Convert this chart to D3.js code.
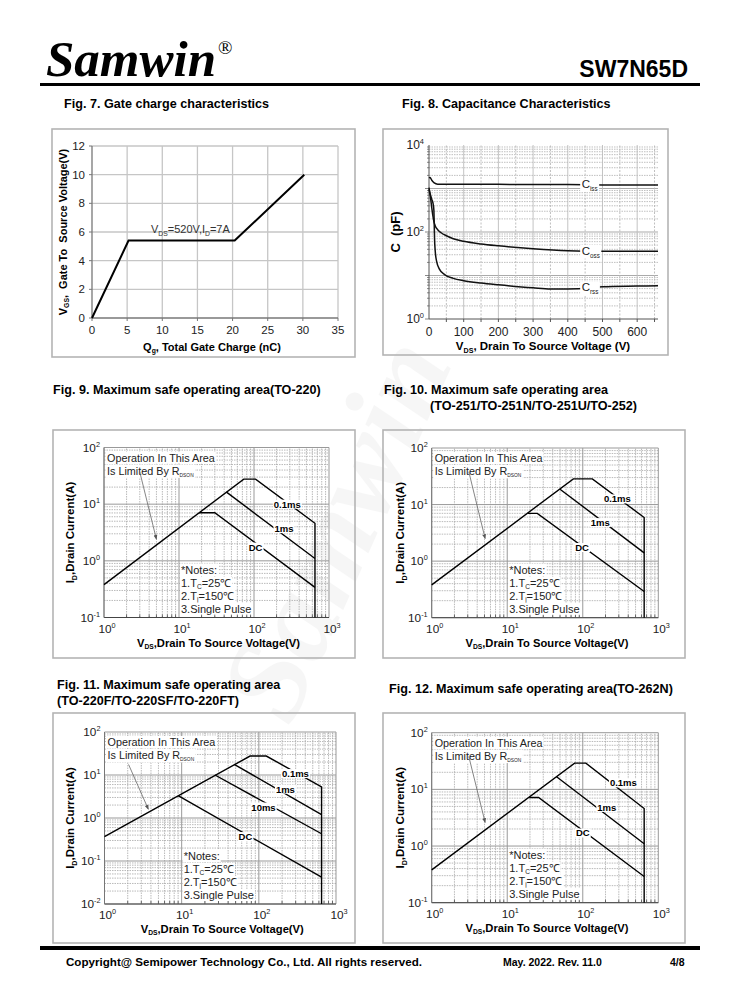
<!DOCTYPE html>
<html><head><meta charset="utf-8">
<script src="https://cdn.jsdelivr.net/npm/d3@7"></script>
<style>
body{margin:0;background:#fff}
svg{display:block}
text{font-family:"Liberation Sans",Arial,Helvetica,sans-serif}
</style>
</head><body>
<svg id="c" width="738" height="1000"></svg>
<script>
// ---------------- DATA ----------------
// Fig 7 gate charge
const fig7Qg = [0, 5.2, 20.3, 30.2];
const fig7Vgs = [0, 5.4, 5.4, 10];
const fig7XTicks = [0, 5, 10, 15, 20, 25, 30, 35];
const fig7YTicks = [0, 2, 4, 6, 8, 10, 12];

// Fig 8 capacitance (V, pF)
const fig8CissV = [0, 3, 8, 15, 25, 50, 100, 200, 300, 400, 500, 600, 660];
const fig8CissC = [1750, 1800, 1550, 1350, 1260, 1250, 1250, 1245, 1240, 1230, 1210, 1200, 1200];
const fig8CossV = [0, 2, 5, 8, 11, 14, 18, 25, 35, 50, 70, 100, 150, 200, 300, 400, 500, 660];
const fig8CossC = [1050, 820, 560, 360, 240, 175, 138, 113, 96, 82, 70, 61, 53, 48, 41, 37, 36, 36];
const fig8CrssV = [0, 4, 8, 12, 14, 15, 16, 18, 22, 30, 45, 70, 100, 150, 200, 300, 350, 400, 460, 500, 600, 660];
const fig8CrssC = [950, 720, 560, 440, 320, 160, 70, 36, 21, 14, 10.5, 8.6, 7.6, 6.7, 6.1, 5.2, 4.9, 4.9, 5.1, 5.5, 5.7, 5.8];
const fig8XTicks = [0, 100, 200, 300, 400, 500, 600];
const fig8YTickExps = [0, 2, 4];

// SOA common
const soaXTickExps = [0, 1, 2, 3];

// Fig 9 (TO-220)  [V, A]
const fig9Op01ms = [[1, 0.38], [73, 27.7], [105, 27.7], [650, 4.6], [650, 0.1]];
const fig9Op1ms = [[43, 16.3], [650, 1.1]];
const fig9OpDC = [[18.5, 7.05], [30, 7.05], [650, 0.34]];
const fig9Labels = [["0.1ms", 278, 10], ["1ms", 251, 3.7], ["DC", 105, 1.75]];

// Fig 10 (TO-251/TO-252)
const fig10Op01ms = [[1, 0.38], [75, 28.5], [134, 28.5], [650, 5.9], [650, 0.1]];
const fig10Op1ms = [[50, 18.7], [650, 1.4]];
const fig10OpDC = [[18.6, 7.0], [25, 7.0], [650, 0.29]];
const fig10Labels = [["0.1ms", 287, 12.6], ["1ms", 170, 4.8], ["DC", 98, 1.74]];

// Fig 11 (TO-220F)
const fig11Op01ms = [[1, 0.37], [77, 27.6], [125, 27.6], [650, 5.3], [650, 0.01]];
const fig11Op1ms = [[48, 17.7], [650, 1.2]];
const fig11Op10ms = [[27, 10], [650, 0.43]];
const fig11OpDC = [[9, 3.3], [650, 0.042]];
const fig11Labels = [["0.1ms", 298, 10.8], ["1ms", 221, 4.7], ["10ms", 115, 1.8], ["DC", 67, 0.37]];

// Fig 12 (TO-262N)
const fig12Op01ms = [[1, 0.38], [78, 29], [110, 29], [650, 4.6], [650, 0.1]];
const fig12Op1ms = [[45, 16.7], [650, 1.1]];
const fig12OpDC = [[19.5, 7.2], [26, 7.2], [650, 0.29]];
const fig12Labels = [["0.1ms", 345, 13], ["1ms", 208, 4.8], ["DC", 100, 1.7]];

// ---------------- DRAWING ----------------
const svg = d3.select("#c");
svg.append("rect").attr("width", 738).attr("height", 1000).attr("fill", "#fff");
const defs = svg.append("defs");
defs.append("marker").attr("id", "arr").attr("viewBox", "0 0 10 10")
  .attr("refX", 9).attr("refY", 5).attr("markerWidth", 6).attr("markerHeight", 6)
  .attr("orient", "auto")
  .append("path").attr("d", "M0,1 L10,5 L0,9 Z").attr("fill", "#555");

// watermark
svg.append("text").attr("x", 0).attr("y", 0)
  .attr("transform", "translate(372,545) rotate(-66)")
  .attr("text-anchor", "middle").attr("font-size", 120)
  .style("font-family", '"Liberation Serif",serif').attr("font-style", "italic").attr("font-weight", "bold")
  .attr("fill", "#000").attr("opacity", 0.03).text("Samwin");

function rich(g, x, y, parts, o) {
  const t = g.append("text").attr("x", x).attr("y", y)
    .attr("font-size", o.size).attr("font-weight", o.bold ? "bold" : "normal")
    .attr("text-anchor", o.anchor || "start").attr("fill", o.fill || "#000")
    .style("white-space", "pre");
  if (o.family) t.style("font-family", o.family);
  if (o.rotate) t.attr("transform", `rotate(${o.rotate},${x},${y})`);
  let shift = 0;
  parts.forEach(p => {
    const [s, kind] = Array.isArray(p) ? p : [p, ""];
    const ts = t.append("tspan").text(s);
    const target = kind === "sub" ? o.size * 0.22 : kind === "sup" ? -o.size * 0.42 : 0;
    if (target !== shift) { ts.attr("dy", target - shift); shift = target; }
    if (kind) ts.attr("font-size", o.size * (o.subScale || 0.62));
  });
  return t;
}
function bg(g, t, px, py) {
  const b = t.node().getBBox();
  g.insert("rect", () => t.node()).attr("x", b.x - px).attr("y", b.y - py)
    .attr("width", b.width + 2 * px).attr("height", b.height + 2 * py).attr("fill", "#fff");
}
function box(x, y, w, h) {
  svg.append("rect").attr("x", x).attr("y", y).attr("width", w).attr("height", h)
    .attr("fill", "none").attr("stroke", "#b4b4b4").attr("stroke-width", 1.6);
}

// ---- header / footer ----
svg.append("text").attr("x", 46).attr("y", 76).attr("font-size", 51)
  .style("font-family", '"Liberation Serif","Times New Roman",serif')
  .attr("font-style", "italic").attr("font-weight", "bold").text("Samwin");
svg.append("text").attr("x", 218).attr("y", 54).attr("font-size", 19)
  .style("font-family", '"Liberation Serif","Times New Roman",serif').text("®");
svg.append("text").attr("x", 688).attr("y", 77).attr("font-size", 23).attr("font-weight", "bold")
  .attr("text-anchor", "end").text("SW7N65D");
svg.append("rect").attr("x", 40).attr("y", 83).attr("width", 660).attr("height", 3).attr("fill", "#000");
svg.append("rect").attr("x", 40).attr("y", 946).attr("width", 660).attr("height", 4).attr("fill", "#000");
svg.append("text").attr("x", 66).attr("y", 966).attr("font-size", 11.6).attr("font-weight", "bold")
  .text("Copyright@ Semipower Technology Co., Ltd. All rights reserved.");
svg.append("text").attr("x", 503).attr("y", 966).attr("font-size", 10.5).attr("font-weight", "bold")
  .text("May. 2022. Rev. 11.0");
svg.append("text").attr("x", 670).attr("y", 966).attr("font-size", 10.5).attr("font-weight", "bold")
  .text("4/8");

// ---- figure titles ----
const titles = [
  [64, 108, "Fig. 7. Gate charge characteristics"],
  [402, 108, "Fig. 8. Capacitance Characteristics"],
  [53, 394, "Fig. 9. Maximum safe operating area(TO-220)"],
  [384, 394, "Fig. 10. Maximum safe operating area"],
  [430, 410, "(TO-251/TO-251N/TO-251U/TO-252)"],
  [57, 689, "Fig. 11. Maximum safe operating area"],
  [57, 705, "(TO-220F/TO-220SF/TO-220FT)"],
  [389, 693, "Fig. 12. Maximum safe operating area(TO-262N)"]
];
titles.forEach(([x, y, s]) => svg.append("text").attr("x", x).attr("y", y)
  .attr("font-size", 12.6).attr("font-weight", "bold").text(s));

// ---- Fig 7 ----
(function () {
  box(52, 129, 303, 228);
  const g = svg.append("g");
  const x = d3.scaleLinear().domain([0, 35]).range([92, 338]);
  const y = d3.scaleLinear().domain([0, 12]).range([318, 146]);
  fig7YTicks.forEach(v => { if (v > 0) g.append("line").attr("x1", x(0)).attr("x2", x(35)).attr("y1", y(v)).attr("y2", y(v)).attr("stroke", "#c6c6c6").attr("stroke-width", 1.3); });
  fig7XTicks.forEach(v => { if (v > 0) g.append("line").attr("x1", x(v)).attr("x2", x(v)).attr("y1", y(0)).attr("y2", y(12)).attr("stroke", "#c6c6c6").attr("stroke-width", 1.3); });
  g.append("line").attr("x1", x(0)).attr("x2", x(0)).attr("y1", y(0)).attr("y2", y(12)).attr("stroke", "#777").attr("stroke-width", 1.3);
  g.append("line").attr("x1", x(0)).attr("x2", x(35)).attr("y1", y(0)).attr("y2", y(0)).attr("stroke", "#777").attr("stroke-width", 1.3);
  fig7YTicks.forEach(v => {
    g.append("line").attr("x1", x(0) - 3).attr("x2", x(0)).attr("y1", y(v)).attr("y2", y(v)).attr("stroke", "#777");
    g.append("text").attr("x", x(0) - 7).attr("y", y(v) + 4).attr("text-anchor", "end").attr("font-size", 11.5).attr("fill", "#222").text(v);
  });
  fig7XTicks.forEach(v => {
    g.append("line").attr("x1", x(v)).attr("x2", x(v)).attr("y1", y(0)).attr("y2", y(0) + 3).attr("stroke", "#777");
    g.append("text").attr("x", x(v)).attr("y", y(0) + 16).attr("text-anchor", "middle").attr("font-size", 11.5).attr("fill", "#222").text(v);
  });
  const pts = fig7Qg.map((q, i) => [q, fig7Vgs[i]]);
  g.append("path").attr("d", d3.line().x(d => x(d[0])).y(d => y(d[1]))(pts))
    .attr("fill", "none").attr("stroke", "#000").attr("stroke-width", 2);
  rich(g, x(14), y(6.2) + 4, ["V", ["DS", "sub"], "=520V,I", ["D", "sub"], "=7A"], { size: 11, anchor: "middle", fill: "#333" });
  rich(g, 212, 351, ["Q", ["g", "sub"], ", Total Gate Charge (nC)"], { size: 11, bold: true, anchor: "middle" });
  rich(g, 67, y(6), ["V", ["GS", "sub"], ",  Gate To  Source Voltage(V)"], { size: 11, bold: true, anchor: "middle", rotate: -90 });
})();

// ---- Fig 8 ----
(function () {
  box(383, 129, 285, 226);
  const g = svg.append("g");
  const x = d3.scaleLinear().domain([0, 660]).range([429, 658]);
  const y = d3.scaleLog().domain([1, 10000]).range([319, 145]);
  for (let e = 0; e < 4; e++) for (let k = 2; k <= 9; k++) {
    const v = k * Math.pow(10, e);
    g.append("line").attr("x1", x(0)).attr("x2", x(660)).attr("y1", y(v)).attr("y2", y(v))
      .attr("stroke", "#b0b0b0").attr("stroke-width", 0.8).attr("stroke-dasharray", "1.5,1");
  }
  for (let e = 1; e < 4; e++) g.append("line").attr("x1", x(0)).attr("x2", x(660)).attr("y1", y(Math.pow(10, e))).attr("y2", y(Math.pow(10, e)))
    .attr("stroke", "#aaa").attr("stroke-width", 1.2);
  d3.range(50, 661, 50).forEach(v => {
    g.append("line").attr("x1", x(v)).attr("x2", x(v)).attr("y1", y(1)).attr("y2", y(10000))
      .attr("stroke", v % 100 === 0 ? "#bcbcbc" : "#b8b8b8").attr("stroke-width", 0.9)
      .attr("stroke-dasharray", v % 100 === 0 ? null : "2,1.5");
    g.append("line").attr("x1", x(v)).attr("x2", x(v)).attr("y1", y(1)).attr("y2", y(1) + 3).attr("stroke", "#555");
  });
  g.append("line").attr("x1", x(0)).attr("x2", x(0)).attr("y1", y(1)).attr("y2", y(10000)).attr("stroke", "#555");
  g.append("line").attr("x1", x(0)).attr("x2", x(660)).attr("y1", y(1)).attr("y2", y(1)).attr("stroke", "#555");
  for (let e = 0; e < 4; e++) for (let k = 1; k <= 9; k++) {
    const v = k * Math.pow(10, e);
    g.append("line").attr("x1", x(0) - (k === 1 ? 4 : 2)).attr("x2", x(0)).attr("y1", y(v)).attr("y2", y(v)).attr("stroke", "#555").attr("stroke-width", 0.7);
  }
  fig8YTickExps.forEach(e => rich(g, x(0) - 5, y(Math.pow(10, e)) + 4, ["10", [String(e), "sup"]], { size: 12, anchor: "end", fill: "#222" }));
  fig8XTicks.forEach(v => g.append("text").attr("x", x(v)).attr("y", y(1) + 17).attr("text-anchor", "middle").attr("font-size", 12).attr("fill", "#222").text(v));
  const line = d3.line().x(d => x(d[0])).y(d => y(d[1])).curve(d3.curveMonotoneX);
  [[fig8CissV, fig8CissC], [fig8CossV, fig8CossC], [fig8CrssV, fig8CrssC]].forEach(([vs, cs]) => {
    g.append("path").attr("d", line(vs.map((v, i) => [v, cs[i]]))).attr("fill", "none").attr("stroke", "#111").attr("stroke-width", 1.5);
  });
  [["iss", 1240], ["oss", 36.5], ["rss", 5.3]].forEach(([s, c]) => {
    const t = rich(g, x(440), y(c) + 4, ["C", [s, "sub"]], { size: 11.5, fill: "#222", subScale: 0.55 });
    bg(g, t, 1.5, 0);
  });
  rich(g, 543, 350, ["V", ["DS", "sub"], ", Drain To Source Voltage (V)"], { size: 11.5, bold: true, anchor: "middle" });
  rich(g, 400, 232, ["C  (pF)"], { size: 13, bold: true, anchor: "middle", rotate: -90 });
})();

// ---- SOA charts ----
function drawSOA(c) {
  box(c.box[0], c.box[1], c.box[2], c.box[3]);
  const g = svg.append("g");
  const x = d3.scaleLog().domain([1, 1000]).range([c.l, c.r]);
  const y = d3.scaleLog().domain([Math.pow(10, c.yExps[0]), Math.pow(10, c.yExps[1])]).range([c.b, c.t]);
  const xMin = 1, xMax = 1000, yMin = Math.pow(10, c.yExps[0]), yMax = Math.pow(10, c.yExps[1]);
  for (let e = 0; e < 3; e++) for (let k = 2; k <= 9; k++) {
    const v = k * Math.pow(10, e);
    g.append("line").attr("x1", x(v)).attr("x2", x(v)).attr("y1", y(yMin)).attr("y2", y(yMax))
      .attr("stroke", "#a8a8a8").attr("stroke-width", 0.8).attr("stroke-dasharray", "1.5,1");
    g.append("line").attr("x1", x(v)).attr("x2", x(v)).attr("y1", y(yMin)).attr("y2", y(yMin) - 3).attr("stroke", "#444").attr("stroke-width", 0.8);
  }
  for (let e = c.yExps[0]; e < c.yExps[1]; e++) for (let k = 2; k <= 9; k++) {
    const v = k * Math.pow(10, e);
    g.append("line").attr("x1", x(xMin)).attr("x2", x(xMax)).attr("y1", y(v)).attr("y2", y(v))
      .attr("stroke", "#a8a8a8").attr("stroke-width", 0.8).attr("stroke-dasharray", "1.5,1");
  }
  soaXTickExps.forEach(e => g.append("line").attr("x1", x(Math.pow(10, e))).attr("x2", x(Math.pow(10, e))).attr("y1", y(yMin)).attr("y2", y(yMax)).attr("stroke", "#999").attr("stroke-width", 1));
  for (let e = c.yExps[0]; e <= c.yExps[1]; e++) g.append("line").attr("x1", x(xMin)).attr("x2", x(xMax)).attr("y1", y(Math.pow(10, e))).attr("y2", y(Math.pow(10, e))).attr("stroke", "#999").attr("stroke-width", 1);
  g.append("line").attr("x1", x(xMin)).attr("x2", x(xMax)).attr("y1", y(yMin)).attr("y2", y(yMin)).attr("stroke", "#444").attr("stroke-width", 1);
  g.append("line").attr("x1", x(xMin)).attr("x2", x(xMin)).attr("y1", y(yMin)).attr("y2", y(yMax)).attr("stroke", "#777").attr("stroke-width", 1);
  soaXTickExps.forEach(e => rich(g, x(Math.pow(10, e)) + 3, y(yMin) + 15, ["10", [String(e), "sup"]], { size: 11.8, anchor: "middle", fill: "#222" }));
  for (let e = c.yExps[0]; e <= c.yExps[1]; e++) rich(g, x(xMin) - 4, y(Math.pow(10, e)) + 4, ["10", [String(e), "sup"]], { size: 11.8, anchor: "end", fill: "#222" });
  const t1 = rich(g, x(xMin) + 3, y(yMax) + 14, ["Operation In This Area"], { size: 10.8, fill: "#222" });
  const t2 = rich(g, x(xMin) + 3, y(yMax) + 27, ["Is Limited By R", ["DSON", "sub"]], { size: 10.8, fill: "#222", subScale: 0.45 });
  bg(g, t1, 1, 0); bg(g, t2, 1, 0);
  const nx = x(10) + 2, nb = y(yMin) - 5;
  const notes = [["*Notes:"], ["1.T", ["C", "sub"], "=25℃"], ["2.T", ["j", "sub"], "=150℃"], ["3.Single Pulse"]];
  notes.forEach((p, i) => { const t = rich(g, nx, nb - (3 - i) * 13, p, { size: 11, fill: "#222", subScale: 0.6 }); bg(g, t, 1, 0); });
  g.append("line").attr("x1", x(c.arrow[0][0])).attr("y1", y(c.arrow[0][1]))
    .attr("x2", x(c.arrow[1][0])).attr("y2", y(c.arrow[1][1]))
    .attr("stroke", "#666").attr("stroke-width", 0.8).attr("marker-end", "url(#arr)");
  const line = d3.line().x(d => x(d[0])).y(d => y(d[1]));
  c.curves.forEach(pts => g.append("path").attr("d", line(pts)).attr("fill", "none").attr("stroke", "#000").attr("stroke-width", 1.4));
  c.labels.forEach(([s, v, i]) => {
    const t = g.append("text").attr("x", x(v)).attr("y", y(i) + 3.5).attr("text-anchor", "middle")
      .attr("font-size", 9.5).attr("font-weight", "bold").text(s);
    bg(g, t, 1, -1);
  });
  rich(g, (c.l + c.r) / 2 + 2, c.b + 29, ["V", ["DS", "sub"], ",Drain To Source Voltage(V)"], { size: 11.2, bold: true, anchor: "middle", subScale: 0.6 });
  rich(g, c.box[0] + 21, (c.t + c.b) / 2, ["I", ["D", "sub"], ",Drain Current(A)"], { size: 11.5, bold: true, anchor: "middle", rotate: -90 });
}

drawSOA({ box: [53, 430, 302, 228], l: 104, r: 329, t: 447.5, b: 617.5, yExps: [-1, 2],
  curves: [fig9Op01ms, fig9Op1ms, fig9OpDC], labels: fig9Labels, arrow: [[3.0, 37], [5.0, 2.4]] });
drawSOA({ box: [383, 430, 302, 228], l: 431.7, r: 658.3, t: 448, b: 617.7, yExps: [-1, 2],
  curves: [fig10Op01ms, fig10Op1ms, fig10OpDC], labels: fig10Labels, arrow: [[3.1, 38], [5.1, 2.5]] });
drawSOA({ box: [53, 713, 302, 230], l: 104.5, r: 336, t: 732, b: 904, yExps: [-2, 2],
  curves: [fig11Op01ms, fig11Op1ms, fig11Op10ms, fig11OpDC], labels: fig11Labels, arrow: [[2.05, 17.6], [3.7, 1.6]] });
drawSOA({ box: [383, 713, 302, 230], l: 431.7, r: 658.3, t: 732.7, b: 902.7, yExps: [-1, 2],
  curves: [fig12Op01ms, fig12Op1ms, fig12OpDC], labels: fig12Labels, arrow: [[3.1, 38], [5.1, 2.6]] });
</script>
</body></html>
